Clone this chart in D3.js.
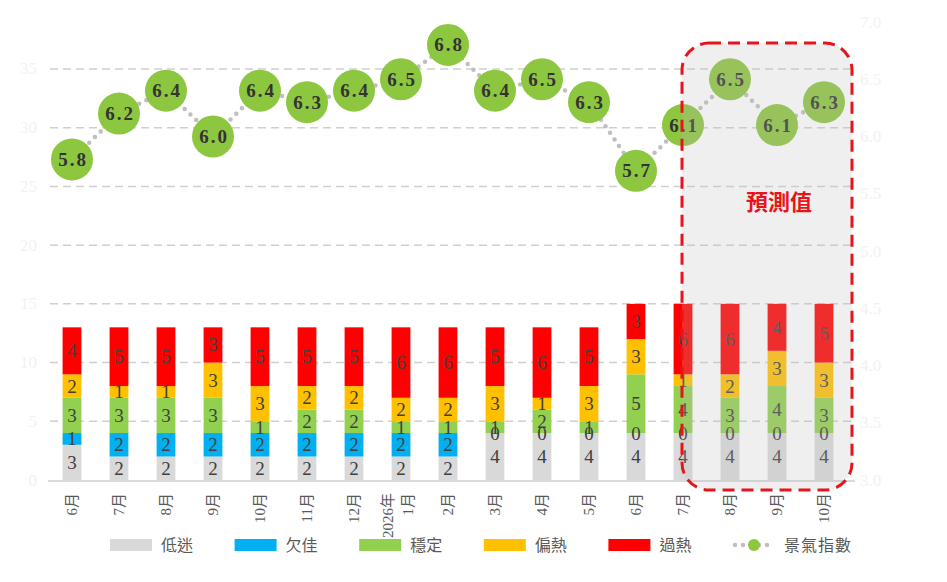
<!DOCTYPE html>
<html>
<head>
<meta charset="utf-8">
<script src="https://cdn.jsdelivr.net/npm/d3@7"></script>
<style>
  body { margin: 0; background: #fff; }
  svg text { font-family: "Liberation Serif", "DejaVu Serif", "Noto Sans CJK TC", serif; }
</style>
</head>
<body>
<svg id="chart" width="947" height="582"></svg>
<script>
// categories (months), the 8th one spans two lines
const months = ["6月", "7月", "8月", "9月", "10月", "11月", "12月", "2026年\n1月", "2月",
  "3月", "4月", "5月", "6月", "7月", "8月", "9月", "10月"];

// stacked counts per signal level
const low    = [3, 2, 2, 2, 2, 2, 2, 2, 2, 4, 4, 4, 4, 4, 4, 4, 4];   // 低迷
const weak   = [1, 2, 2, 2, 2, 2, 2, 2, 2, 0, 0, 0, 0, 0, 0, 0, 0];   // 欠佳
const stable = [3, 3, 3, 3, 1, 2, 2, 1, 1, 1, 2, 1, 5, 4, 3, 4, 3];   // 穩定
const warm   = [2, 1, 1, 3, 3, 2, 2, 2, 2, 3, 1, 3, 3, 1, 2, 3, 3];   // 偏熱
const hot    = [4, 5, 5, 3, 5, 5, 5, 6, 6, 5, 6, 5, 3, 6, 6, 4, 5];   // 過熱

// composite index (right axis)
const index = [5.8, 6.2, 6.4, 6.0, 6.4, 6.3, 6.4, 6.5, 6.8, 6.4, 6.5, 6.3, 5.7, 6.1, 6.5, 6.1, 6.3];

const leftTicks = [0, 5, 10, 15, 20, 25, 30, 35];
const rightTicks = [3.0, 3.5, 4.0, 4.5, 5.0, 5.5, 6.0, 6.5, 7.0];
const forecastFrom = 13; // first forecast month index (7月)

const seriesNames = ["低迷", "欠佳", "穩定", "偏熱", "過熱"];
const seriesColors = ["#D9D9D9", "#00B0F0", "#92D050", "#FFC000", "#FF0000"];
const seriesData = [low, weak, stable, warm, hot];

const plot = { left: 48.5, right: 847.5, top: 22, bottom: 480 };
const svg = d3.select("#chart");

const idx = d3.range(months.length);
const x = d3.scaleBand().domain(idx).range([plot.left, plot.right])
  .paddingInner(0.6).paddingOuter(0.3);
const yL = d3.scaleLinear().domain([0, 39]).range([plot.bottom, plot.top]);
const yR = d3.scaleLinear().domain([3, 7]).range([plot.bottom, plot.top]);
const cx = (i) => x(i) + x.bandwidth() / 2;

// gridlines
svg.append("g")
  .selectAll("line")
  .data(leftTicks.filter((d) => d > 0))
  .join("line")
  .attr("x1", 50).attr("x2", 853)
  .attr("y1", (d) => yL(d)).attr("y2", (d) => yL(d))
  .attr("stroke", "#d0d0d0")
  .attr("stroke-width", 1.5)
  .attr("stroke-dasharray", "8,5");

// left + right tick labels (almost white, as in the original)
svg.append("g")
  .selectAll("text")
  .data(leftTicks)
  .join("text")
  .attr("x", 37).attr("y", (d) => yL(d))
  .attr("text-anchor", "end").attr("dominant-baseline", "central")
  .attr("font-size", 17).attr("fill", "#f2f2f2")
  .text((d) => d);

svg.append("g")
  .selectAll("text")
  .data(rightTicks)
  .join("text")
  .attr("x", 860).attr("y", (d) => yR(d))
  .attr("dominant-baseline", "central")
  .attr("font-size", 17).attr("fill", "#f2f2f2")
  .text((d) => d3.format(".1f")(d));

// stacked bars
const rows = idx.map((i) => {
  const r = { i };
  seriesNames.forEach((n, k) => (r[n] = seriesData[k][i]));
  return r;
});
const stacked = d3.stack().keys(seriesNames)(rows);

const barG = svg.append("g");
stacked.forEach((layer, k) => {
  barG.append("g")
    .attr("fill", seriesColors[k])
    .selectAll("rect")
    .data(layer)
    .join("rect")
    .attr("x", (d) => x(d.data.i))
    .attr("width", x.bandwidth())
    .attr("y", (d) => yL(d[1]))
    .attr("height", (d) => yL(d[0]) - yL(d[1]));
});

stacked.forEach((layer) => {
  barG.append("g")
    .selectAll("text")
    .data(layer)
    .join("text")
    .attr("x", (d) => cx(d.data.i))
    .attr("y", (d) => yL((d[0] + d[1]) / 2))
    .attr("text-anchor", "middle").attr("dominant-baseline", "central")
    .attr("font-size", 19).attr("fill", "#404040")
    .text((d) => d[1] - d[0]);
});

// baseline
svg.append("line")
  .attr("x1", 48).attr("x2", 855)
  .attr("y1", plot.bottom + 1).attr("y2", plot.bottom + 1)
  .attr("stroke", "#d9d9d9").attr("stroke-width", 2);

// month labels, rotated
const xl = svg.append("g")
  .selectAll("text")
  .data(idx)
  .join("text")
  .attr("transform", (i) => `translate(${cx(i)},493) rotate(-90)`)
  .attr("text-anchor", "end")
  .attr("font-size", 15).attr("fill", "#595959");
xl.each(function (i) {
  const lines = months[i].split("\n");
  const t = d3.select(this);
  lines.forEach((s, j) => {
    const off = lines.length === 1 ? 5 : (j === 0 ? -8 : 12);
    t.append("tspan").attr("x", 0).attr("y", off).text(s);
  });
});

// index line with dotted connector
const line = d3.line().x((d, i) => cx(i)).y((d) => yR(d));
svg.append("path")
  .datum(index)
  .attr("d", line)
  .attr("fill", "none")
  .attr("stroke", "#bfbfbf")
  .attr("stroke-width", 4.5)
  .attr("stroke-linecap", "round")
  .attr("stroke-dasharray", "0,8");

const pts = svg.append("g")
  .selectAll("g")
  .data(index)
  .join("g")
  .attr("transform", (d, i) => `translate(${cx(i)},${yR(d)})`);
pts.append("circle").attr("r", 21).attr("fill", "#8DC63F");
pts.append("text")
  .attr("text-anchor", "middle").attr("dominant-baseline", "central")
  .attr("font-size", 19).attr("font-weight", "bold").attr("fill", "#333")
  .attr("letter-spacing", 2).attr("dx", 1)
  .text((d) => d3.format(".1f")(d));

// forecast box, drawn over the marks with a light tint
const boxX = cx(forecastFrom) - 1;
const boxR = cx(months.length - 1) + 28;
svg.append("rect")
  .attr("x", boxX).attr("y", 43)
  .attr("width", boxR - boxX).attr("height", 490 - 43)
  .attr("rx", 27).attr("ry", 27)
  .attr("fill", "rgba(190,190,190,0.24)")
  .attr("stroke", "#E8141B")
  .attr("stroke-width", 3)
  .attr("stroke-dasharray", "12,7");

svg.append("text")
  .attr("x", (boxX + boxR) / 2 + 12).attr("y", 202)
  .attr("text-anchor", "middle").attr("dominant-baseline", "central")
  .attr("font-size", 22).attr("font-weight", "bold").attr("fill", "#E8141B")
  .attr("font-family", "Noto Sans CJK TC")
  .text("預測值");

// legend
const legend = svg.append("g").attr("transform", "translate(110,545)");
const step = 124.6;
seriesNames.forEach((n, k) => {
  const g = legend.append("g").attr("transform", `translate(${k * step},0)`);
  g.append("rect").attr("x", 0).attr("y", -6).attr("width", 42).attr("height", 12)
    .attr("fill", seriesColors[k]);
  g.append("text").attr("x", 51).attr("y", 0)
    .attr("dominant-baseline", "central")
    .attr("font-size", 16).attr("fill", "#595959")
    .text(n);
});
const lg = legend.append("g").attr("transform", `translate(${5 * step},0)`);
lg.append("line").attr("x1", 2).attr("x2", 40).attr("y1", 0).attr("y2", 0)
  .attr("stroke", "#bfbfbf").attr("stroke-width", 4.5)
  .attr("stroke-linecap", "round").attr("stroke-dasharray", "0,8");
lg.append("circle").attr("cx", 21).attr("cy", 0).attr("r", 6).attr("fill", "#8DC63F");
lg.append("text").attr("x", 51).attr("y", 0)
  .attr("dominant-baseline", "central")
  .attr("font-size", 16).attr("fill", "#595959").attr("letter-spacing", 1)
  .text("景氣指數");
</script>
</body>
</html>
